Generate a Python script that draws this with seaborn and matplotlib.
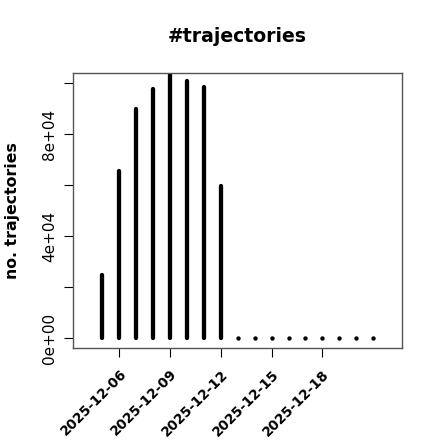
import matplotlib
matplotlib.use("Agg")
import matplotlib.pyplot as plt
import matplotlib.dates as mdates
import seaborn as sns
import pandas as pd
import numpy as np

dates = pd.date_range("2025-12-05", "2025-12-21", freq="D")
counts = [24900, 65700, 89800, 97900, 106000, 101000, 98700, 59700,
          0, 0, 0, 0, 0, 0, 0, 0, 0]
xtick_dates = ["2025-12-06", "2025-12-09", "2025-12-12", "2025-12-15", "2025-12-18"]
ytick_vals = [0, 20000, 40000, 60000, 80000, 100000]
ytick_labels = ["0e+00", "", "4e+04", "", "8e+04", ""]

df = pd.DataFrame({"date": dates, "n": counts})

sns.set_theme(style="white")
plt.rcParams["font.family"] = ["DejaVu Sans"]
plt.rcParams["text.color"] = "black"
plt.rcParams["xtick.color"] = "black"
plt.rcParams["ytick.color"] = "black"
plt.rcParams["axes.labelcolor"] = "black"

fig = plt.figure(figsize=(4.4, 4.4), dpi=100)
ax = fig.add_axes([73.3 / 440, 1 - 348.3 / 440, (402.3 - 73.3) / 440, (348.3 - 73.3) / 440])

nz = df[df["n"] > 0]
z = df[df["n"] == 0]
ax.vlines(nz["date"], 0, nz["n"], color="black", linewidth=3.1, capstyle="round")
sns.scatterplot(data=z, x="date", y="n", ax=ax, color="black", s=10, linewidth=0, zorder=3)

x0 = mdates.date2num(pd.Timestamp("2025-12-04"))
x1 = mdates.date2num(pd.Timestamp("2025-12-22"))
pad = (x1 - x0) * 0.04
ax.set_xlim(x0 - pad, x1 + pad)
ax.set_ylim(-4000, 104000)

ax.set_xticks([mdates.date2num(pd.Timestamp(d)) for d in xtick_dates])
ax.set_xticklabels(xtick_dates, rotation=45, ha="right", va="top", rotation_mode="anchor",
                   fontweight="bold", fontsize=9.8, color="black")
ax.set_yticks(ytick_vals)
ax.set_yticklabels(ytick_labels, rotation=90, va="center", fontsize=11, color="black")

ax.tick_params(axis="both", which="both", direction="out", length=6.5, width=0.8,
               color="black", bottom=True, left=True)
ax.tick_params(axis="y", pad=5)
ax.tick_params(axis="x", pad=7)

for s in ax.spines.values():
    s.set_color("#555555")
    s.set_linewidth(1.0)

ax.set_xlabel("")
ax.set_ylabel("")
fig.text(13 / 440, 1 - 210.8 / 440, "no. trajectories", rotation=90, ha="center", va="center",
         fontweight="bold", fontsize=11.3, color="black")
fig.text(237.7 / 440, 1 - 37 / 440, "#trajectories", ha="center", va="center",
         fontweight="bold", fontsize=13.6, color="black")

fig.savefig("out.png", dpi=100)
